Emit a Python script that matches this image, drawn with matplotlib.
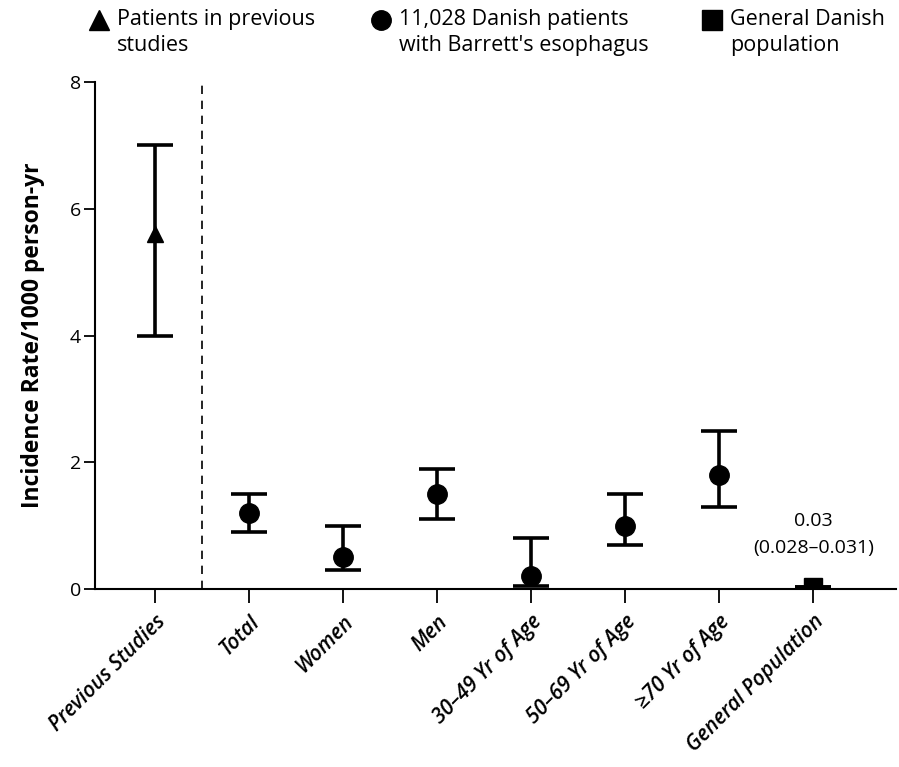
import matplotlib.pyplot as plt
from matplotlib.lines import Line2D

plt.rcParams['font.family'] = ['Open Sans', 'DejaVu Sans']

# categories and incidence rates (per 1000 person-yr)
groups = ['Previous Studies', 'Total', 'Women', 'Men', '30\u201349 Yr of Age',
          '50\u201369 Yr of Age', '\u226570 Yr of Age', 'General Population']
rates = [5.6, 1.2, 0.5, 1.5, 0.2, 1.0, 1.8, 0.03]
lower = [4.0, 0.9, 0.3, 1.1, 0.05, 0.7, 1.3, 0.028]
upper = [7.0, 1.5, 1.0, 1.9, 0.8, 1.5, 2.5, 0.031]
markers = ['^', 'o', 'o', 'o', 'o', 'o', 'o', 's']

fig = plt.figure(figsize=(8.99, 7.67), dpi=100)
ax = fig.add_axes([0.1057, 0.232, 0.891, 0.661])

for i, (r, lo, hi, m) in enumerate(zip(rates, lower, upper, markers)):
    ax.errorbar(i, r, yerr=[[r - lo], [hi - r]], fmt=m, color='black',
                ecolor='black', elinewidth=2.6, capsize=13, capthick=2.6,
                markersize={'o': 14, 's': 13, '^': 11}[m], zorder=3)

# separator between previous studies and this study
ax.axvline(0.5, ymin=0, ymax=1, color='black', linestyle=(0, (5, 4)), linewidth=1.2)

ax.text(7, 1.08, '0.03', ha='center', va='center', fontsize=14)
ax.text(7, 0.64, '(0.028\u20130.031)', ha='center', va='center', fontsize=14)

ax.set_xlim(-0.64, 7.88)
ax.set_ylim(0, 8)
ax.set_yticks([0, 2, 4, 6, 8])
ax.set_xticks(range(len(groups)))
ax.set_xticklabels(groups, rotation=45, ha='right', rotation_mode='anchor',
                   fontstyle='italic', fontweight='semibold', fontsize=15)
ax.tick_params(axis='y', labelsize=14, length=8, width=1.3, pad=2)
ax.tick_params(axis='x', length=10, width=1.3, pad=6)
ax.set_ylabel('Incidence Rate/1000 person-yr', fontsize=16.5, fontweight='bold', labelpad=18)
for side in ['top', 'right']:
    ax.spines[side].set_visible(False)
for side in ['left', 'bottom']:
    ax.spines[side].set_linewidth(1.5)

# legend across the top
legend_items = [('^', 0.110, 'Patients in previous\nstudies'),
                ('o', 0.424, "11,028 Danish patients\nwith Barrett's esophagus"),
                ('s', 0.792, 'General Danish\npopulation')]
for m, xpos, label in legend_items:
    fig.add_artist(Line2D([xpos], [0.974], marker=m, color='black', markersize=14,
                          linestyle='none', transform=fig.transFigure))
    fig.text(xpos + 0.020, 0.988, label, ha='left', va='top', fontsize=15.5,
             linespacing=1.3)

fig.savefig('out.png', dpi=100)
